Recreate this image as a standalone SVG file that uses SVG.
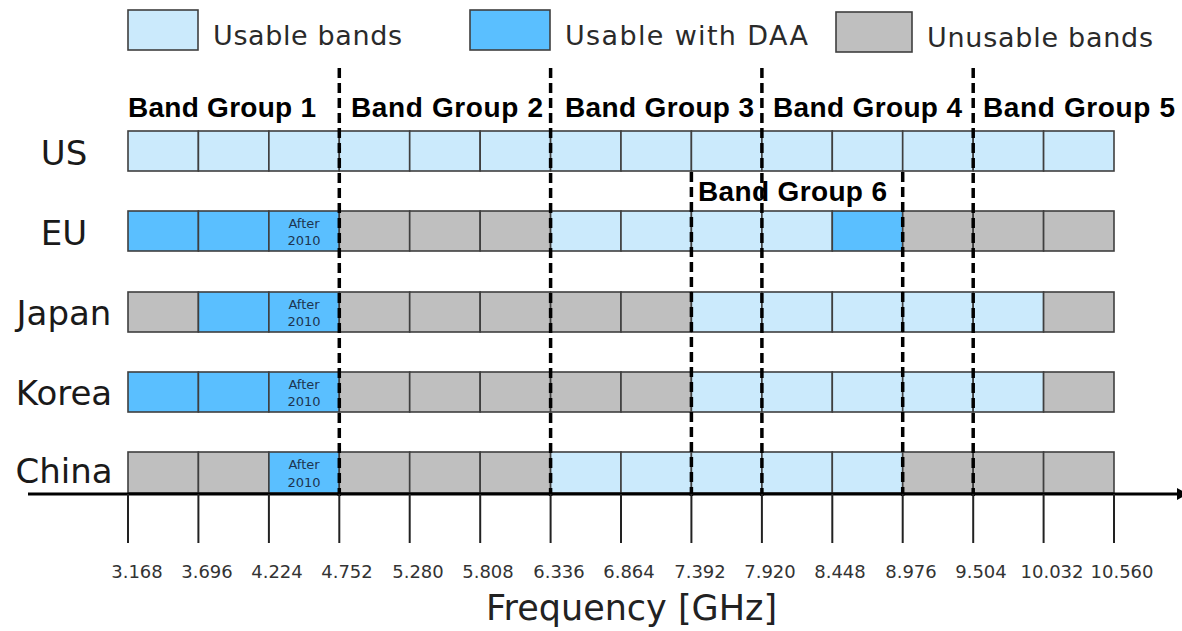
<svg xmlns="http://www.w3.org/2000/svg" width="1182" height="631" viewBox="0 0 1182 631">
<style>
.L{fill:#cbeafc;stroke:#3f3f3f;stroke-width:1.6}
.D{fill:#5abfff;stroke:#3f3f3f;stroke-width:1.6}
.G{fill:#bfbfbf;stroke:#3f3f3f;stroke-width:1.6}
.leg{font-family:"DejaVu Sans",sans-serif;font-size:27px;fill:#2a2a2a}
.row{font-family:"DejaVu Sans",sans-serif;font-size:34px;fill:#1a1a1a;text-anchor:middle}
.bg{font-family:"Liberation Sans",Arial,sans-serif;font-weight:bold;font-size:28px;fill:#000}
.aft{font-family:"DejaVu Sans",sans-serif;font-size:13px;fill:#1d3550;text-anchor:middle}
.tl{font-family:"DejaVu Sans",sans-serif;font-size:18px;fill:#333;text-anchor:middle}
.dash{stroke:#000;stroke-width:3.5;stroke-dasharray:10 5;fill:none}
.tick{stroke:#222;stroke-width:2}
</style>
<g id="legend">
<rect class="L" x="128" y="10" width="70" height="40"/>
<text class="leg" x="213" y="45" textLength="189">Usable bands</text>
<rect class="D" x="470" y="10" width="80" height="40"/>
<text class="leg" x="565" y="45" textLength="243">Usable with DAA</text>
<rect class="G" x="836" y="12" width="76" height="40"/>
<text class="leg" x="927" y="47" textLength="226">Unusable bands</text>
</g>
<g id="row-us">
<text class="row" x="64" y="165">US</text>
<rect class="L" x="128" y="131" width="70.4" height="40"/>
<rect class="L" x="198.4" y="131" width="70.4" height="40"/>
<rect class="L" x="268.9" y="131" width="70.4" height="40"/>
<rect class="L" x="339.3" y="131" width="70.4" height="40"/>
<rect class="L" x="409.7" y="131" width="70.4" height="40"/>
<rect class="L" x="480.2" y="131" width="70.4" height="40"/>
<rect class="L" x="550.6" y="131" width="70.4" height="40"/>
<rect class="L" x="621" y="131" width="70.4" height="40"/>
<rect class="L" x="691.4" y="131" width="70.4" height="40"/>
<rect class="L" x="761.9" y="131" width="70.4" height="40"/>
<rect class="L" x="832.3" y="131" width="70.4" height="40"/>
<rect class="L" x="902.7" y="131" width="70.4" height="40"/>
<rect class="L" x="973.2" y="131" width="70.4" height="40"/>
<rect class="L" x="1043.6" y="131" width="70.4" height="40"/>
</g>
<g id="row-eu">
<text class="row" x="64" y="245">EU</text>
<rect class="D" x="128" y="211" width="70.4" height="40"/>
<rect class="D" x="198.4" y="211" width="70.4" height="40"/>
<rect class="D" x="268.9" y="211" width="70.4" height="40"/>
<text class="aft" x="304" y="228">After</text><text class="aft" x="304" y="245">2010</text>
<rect class="G" x="339.3" y="211" width="70.4" height="40"/>
<rect class="G" x="409.7" y="211" width="70.4" height="40"/>
<rect class="G" x="480.2" y="211" width="70.4" height="40"/>
<rect class="L" x="550.6" y="211" width="70.4" height="40"/>
<rect class="L" x="621" y="211" width="70.4" height="40"/>
<rect class="L" x="691.4" y="211" width="70.4" height="40"/>
<rect class="L" x="761.9" y="211" width="70.4" height="40"/>
<rect class="D" x="832.3" y="211" width="70.4" height="40"/>
<rect class="G" x="902.7" y="211" width="70.4" height="40"/>
<rect class="G" x="973.2" y="211" width="70.4" height="40"/>
<rect class="G" x="1043.6" y="211" width="70.4" height="40"/>
</g>
<g id="row-japan">
<text class="row" x="64" y="325">Japan</text>
<rect class="G" x="128" y="292" width="70.4" height="40"/>
<rect class="D" x="198.4" y="292" width="70.4" height="40"/>
<rect class="D" x="268.9" y="292" width="70.4" height="40"/>
<text class="aft" x="304" y="309">After</text><text class="aft" x="304" y="326">2010</text>
<rect class="G" x="339.3" y="292" width="70.4" height="40"/>
<rect class="G" x="409.7" y="292" width="70.4" height="40"/>
<rect class="G" x="480.2" y="292" width="70.4" height="40"/>
<rect class="G" x="550.6" y="292" width="70.4" height="40"/>
<rect class="G" x="621" y="292" width="70.4" height="40"/>
<rect class="L" x="691.4" y="292" width="70.4" height="40"/>
<rect class="L" x="761.9" y="292" width="70.4" height="40"/>
<rect class="L" x="832.3" y="292" width="70.4" height="40"/>
<rect class="L" x="902.7" y="292" width="70.4" height="40"/>
<rect class="L" x="973.2" y="292" width="70.4" height="40"/>
<rect class="G" x="1043.6" y="292" width="70.4" height="40"/>
</g>
<g id="row-korea">
<text class="row" x="64" y="405">Korea</text>
<rect class="D" x="128" y="372" width="70.4" height="40"/>
<rect class="D" x="198.4" y="372" width="70.4" height="40"/>
<rect class="D" x="268.9" y="372" width="70.4" height="40"/>
<text class="aft" x="304" y="389">After</text><text class="aft" x="304" y="406">2010</text>
<rect class="G" x="339.3" y="372" width="70.4" height="40"/>
<rect class="G" x="409.7" y="372" width="70.4" height="40"/>
<rect class="G" x="480.2" y="372" width="70.4" height="40"/>
<rect class="G" x="550.6" y="372" width="70.4" height="40"/>
<rect class="G" x="621" y="372" width="70.4" height="40"/>
<rect class="L" x="691.4" y="372" width="70.4" height="40"/>
<rect class="L" x="761.9" y="372" width="70.4" height="40"/>
<rect class="L" x="832.3" y="372" width="70.4" height="40"/>
<rect class="L" x="902.7" y="372" width="70.4" height="40"/>
<rect class="L" x="973.2" y="372" width="70.4" height="40"/>
<rect class="G" x="1043.6" y="372" width="70.4" height="40"/>
</g>
<g id="row-china">
<text class="row" x="64" y="483">China</text>
<rect class="G" x="128" y="452" width="70.4" height="41"/>
<rect class="G" x="198.4" y="452" width="70.4" height="41"/>
<rect class="D" x="268.9" y="452" width="70.4" height="41"/>
<text class="aft" x="304" y="469">After</text><text class="aft" x="304" y="487">2010</text>
<rect class="G" x="339.3" y="452" width="70.4" height="41"/>
<rect class="G" x="409.7" y="452" width="70.4" height="41"/>
<rect class="G" x="480.2" y="452" width="70.4" height="41"/>
<rect class="L" x="550.6" y="452" width="70.4" height="41"/>
<rect class="L" x="621" y="452" width="70.4" height="41"/>
<rect class="L" x="691.4" y="452" width="70.4" height="41"/>
<rect class="L" x="761.9" y="452" width="70.4" height="41"/>
<rect class="L" x="832.3" y="452" width="70.4" height="41"/>
<rect class="G" x="902.7" y="452" width="70.4" height="41"/>
<rect class="G" x="973.2" y="452" width="70.4" height="41"/>
<rect class="G" x="1043.6" y="452" width="70.4" height="41"/>
</g>
<g id="band-groups">
<text class="bg" x="128" y="117" textLength="188">Band Group 1</text>
<text class="bg" x="351" y="117" textLength="192">Band Group 2</text>
<text class="bg" x="565" y="117" textLength="189">Band Group 3</text>
<text class="bg" x="773" y="117" textLength="189">Band Group 4</text>
<text class="bg" x="983" y="117" textLength="192">Band Group 5</text>
<text class="bg" x="698" y="201" textLength="189">Band Group 6</text>
</g>
<g id="connectors">
<line class="dash" x1="339.3" y1="68" x2="339.3" y2="496"/>
<line class="dash" x1="550.6" y1="68" x2="550.6" y2="496"/>
<line class="dash" x1="761.9" y1="68" x2="761.9" y2="496"/>
<line class="dash" x1="973.2" y1="68" x2="973.2" y2="496"/>
<line class="dash" x1="691.4" y1="172" x2="691.4" y2="496"/>
<line class="dash" x1="902.7" y1="172" x2="902.7" y2="496"/>
</g>
<g id="axis">
<line x1="28" y1="494" x2="1178" y2="494" stroke="#000" stroke-width="3"/>
<polygon points="1177,488 1188,494 1177,500" fill="#000"/>
<line class="tick" x1="128" y1="494" x2="128" y2="543"/>
<line class="tick" x1="198.4" y1="494" x2="198.4" y2="543"/>
<line class="tick" x1="268.9" y1="494" x2="268.9" y2="543"/>
<line class="tick" x1="339.3" y1="494" x2="339.3" y2="543"/>
<line class="tick" x1="409.7" y1="494" x2="409.7" y2="543"/>
<line class="tick" x1="480.2" y1="494" x2="480.2" y2="543"/>
<line class="tick" x1="550.6" y1="494" x2="550.6" y2="543"/>
<line class="tick" x1="621" y1="494" x2="621" y2="543"/>
<line class="tick" x1="691.4" y1="494" x2="691.4" y2="543"/>
<line class="tick" x1="761.9" y1="494" x2="761.9" y2="543"/>
<line class="tick" x1="832.3" y1="494" x2="832.3" y2="543"/>
<line class="tick" x1="902.7" y1="494" x2="902.7" y2="543"/>
<line class="tick" x1="973.2" y1="494" x2="973.2" y2="543"/>
<line class="tick" x1="1043.6" y1="494" x2="1043.6" y2="543"/>
<line class="tick" x1="1114" y1="494" x2="1114" y2="543"/>
<text class="tl" x="137" y="578">3.168</text>
<text class="tl" x="207" y="578">3.696</text>
<text class="tl" x="277" y="578">4.224</text>
<text class="tl" x="347" y="578">4.752</text>
<text class="tl" x="418" y="578">5.280</text>
<text class="tl" x="488" y="578">5.808</text>
<text class="tl" x="559" y="578">6.336</text>
<text class="tl" x="629" y="578">6.864</text>
<text class="tl" x="700" y="578">7.392</text>
<text class="tl" x="770" y="578">7.920</text>
<text class="tl" x="840" y="578">8.448</text>
<text class="tl" x="911" y="578">8.976</text>
<text class="tl" x="981" y="578">9.504</text>
<text class="tl" x="1052" y="578">10.032</text>
<text class="tl" x="1122" y="578">10.560</text>
<text x="486" y="620" font-family="DejaVu Sans, sans-serif" font-size="35" fill="#222">Frequency [GHz]</text>
</g>
</svg>
